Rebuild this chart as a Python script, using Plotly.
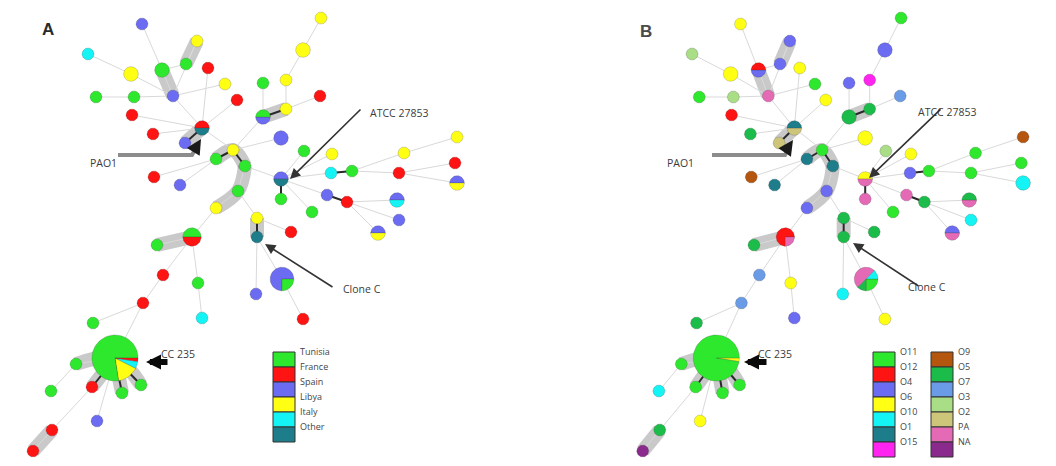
import math
import plotly.graph_objects as go

W, H = 1056, 466

# ---- network data -------------------------------------------------------
node_id = ["n1", "n2", "n3", "n4", "n5", "n6", "n7", "n8", "n9", "n10",
           "n11", "n12", "n13", "n14", "n15", "n15b", "n16", "n17", "n18", "n19",
           "n20", "n21a", "n21b", "n22", "n23", "n24", "n25", "n26", "n27", "n28",
           "n29", "n30", "n31", "n32", "n33", "n34a", "n34b", "n35a", "n35b", "n36",
           "n37", "n38", "n39", "n40", "n41", "n42", "n43", "n44", "n45a", "n45b",
           "n46", "n47a", "n47b", "n51", "n52", "n53", "n54", "n55", "n56", "n57",
           "n58", "n59", "n60", "n61", "n62", "n63", "n64", "n65", "n66", "n67"]

# layout coordinates of the spanning tree
node_x = [142, 88, 197, 186, 162, 208, 131, 96, 134, 173,
          225, 237, 132, 153, 202, 185, 321, 303, 263, 286,
          320, 263, 286, 281, 233, 216, 245, 238, 216, 154,
          180, 304, 332, 281, 281, 331, 352, 327, 347, 312,
          404, 457, 399, 455, 457, 397, 399, 378, 257, 257,
          291, 192, 157, 163, 198, 143, 202, 93, 282, 256,
          303, 115, 76, 51, 92, 122, 141, 97, 52, 33]
node_y = [24, 54, 41, 64, 70, 68, 74, 97, 97, 96,
          84, 100, 115, 134, 128, 143, 18, 50, 83, 80,
          96, 117, 109, 138, 150, 159, 166, 191, 208, 177,
          185, 151, 154, 179, 199, 173, 171, 195, 202, 212,
          153, 137, 173, 163, 183, 200, 220, 233, 218, 237,
          232, 237, 245, 275, 283, 303, 318, 323, 279, 294,
          319, 358, 364, 391, 387, 393, 385, 421, 430, 451]

# isolates per node, split by country of origin (panel A)
country_mix = [
    [("Spain", 1)], [("Italy", 1)], [("Libya", 1)], [("Tunisia", 1)], [("Tunisia", 2)],
    [("France", 1)], [("Libya", 2)], [("Tunisia", 1)], [("Tunisia", 1)], [("Spain", 1)],
    [("Libya", 1)], [("France", 1)], [("France", 1)], [("France", 1)], [("Other", 1), ("France", 1)],
    [("Spain", 1)], [("Libya", 1)], [("Libya", 2)], [("Tunisia", 1)], [("Libya", 1)],
    [("France", 1)], [("Spain", 1), ("Tunisia", 1)], [("Libya", 1)], [("Spain", 2)], [("Libya", 1)],
    [("Tunisia", 1)], [("Tunisia", 1)], [("Tunisia", 1)], [("Libya", 1)], [("France", 1)],
    [("Spain", 1)], [("Tunisia", 1)], [("Libya", 1)], [("Other", 1), ("Spain", 1)], [("Tunisia", 1)],
    [("Italy", 1)], [("Tunisia", 1)], [("Spain", 1)], [("France", 1)], [("Tunisia", 1)],
    [("Libya", 1)], [("Libya", 1)], [("France", 1)], [("France", 1)], [("Libya", 1), ("Spain", 1)],
    [("Italy", 1), ("Spain", 1)], [("Spain", 1)], [("Libya", 1), ("Spain", 1)], [("Libya", 1)], [("Other", 1)],
    [("France", 1)], [("France", 2), ("Tunisia", 2)], [("Tunisia", 1)], [("France", 1)], [("Tunisia", 1)],
    [("France", 1)], [("Italy", 1)], [("Tunisia", 1)], [("Tunisia", 2), ("Spain", 6)], [("Spain", 1)],
    [("France", 1)], [("France", 1), ("Italy", 2), ("Libya", 6), ("Tunisia", 31)], [("Tunisia", 1)], [("Tunisia", 1)], [("France", 1)],
    [("Tunisia", 1)], [("Tunisia", 1)], [("Spain", 1)], [("France", 1)], [("France", 1)],
]

# the same isolates split by serotype (panel B)
serotype_mix = [
    [("O6", 1)], [("O3", 1)], [("O4", 1)], [("O4", 1)], [("O4", 1), ("O12", 1)],
    [("O6", 1)], [("O6", 2)], [("O11", 1)], [("O3", 1)], [("PA", 1)],
    [("O11", 1)], [("O6", 1)], [("O12", 1)], [("O5", 1)], [("O2", 1), ("O1", 1)],
    [("O2", 1)], [("O11", 1)], [("O4", 2)], [("O4", 1)], [("O15", 1)],
    [("O7", 1)], [("O5", 2)], [("O5", 1)], [("O6", 2)], [("O11", 1)],
    [("O1", 1)], [("O1", 1)], [("O4", 1)], [("O4", 1)], [("O9", 1)],
    [("O1", 1)], [("O3", 1)], [("O6", 1)], [("PA", 1), ("O6", 1)], [("PA", 1)],
    [("O4", 1)], [("O11", 1)], [("PA", 1)], [("O5", 1)], [("O11", 1)],
    [("O11", 1)], [("O9", 1)], [("O11", 1)], [("O11", 1)], [("O10", 2)],
    [("PA", 1), ("O5", 1)], [("O10", 1)], [("PA", 1), ("O4", 1)], [("O5", 1)], [("O5", 1)],
    [("O5", 1)], [("PA", 1), ("O12", 3)], [("O5", 1)], [("O7", 1)], [("O6", 1)],
    [("O7", 1)], [("O4", 1)], [("O5", 1)], [("O11", 2), ("O5", 1), ("PA", 4), ("O10", 1)], [("O10", 1)],
    [("O6", 1)], [("O6", 1), ("O11", 39)], [("O11", 1)], [("O10", 1)], [("O11", 1)],
    [("O11", 1)], [("O11", 1)], [("O6", 1)], [("O5", 1)], [("NA", 1)],
]

edges = [("n23", "n15"), ("n15", "n10"), ("n15", "n13"), ("n15", "n14"), ("n15", "n12"),
         ("n15", "n6"), ("n10", "n5"), ("n10", "n9"), ("n10", "n7"), ("n5", "n4"),
         ("n4", "n3"), ("n5", "n1"), ("n9", "n8"), ("n7", "n2"), ("n10", "n11"),
         ("n23", "n21a"), ("n21a", "n21b"), ("n21a", "n18"), ("n21b", "n19"), ("n19", "n17"),
         ("n17", "n16"), ("n21b", "n20"), ("n23", "n22"), ("n24", "n29"), ("n24", "n28"),
         ("n23", "n24"), ("n23", "n25"), ("n25", "n32"), ("n32", "n33"), ("n32", "n30"),
         ("n32", "n31"), ("n32", "n34a"), ("n34a", "n34b"), ("n34b", "n37"), ("n37", "n38"),
         ("n34b", "n39"), ("n39", "n40"), ("n39", "n41"), ("n32", "n35a"), ("n35a", "n35b"),
         ("n35b", "n42"), ("n35b", "n43"), ("n35b", "n44"), ("n32", "n36"), ("n25", "n26"),
         ("n26", "n27"), ("n27", "n47a"), ("n47a", "n47b"), ("n47a", "n51"), ("n51", "n53"),
         ("n53", "n59"), ("n47a", "n52"), ("n52", "n54"), ("n53", "n55"), ("n26", "n45a"),
         ("n45a", "n45b"), ("n45b", "n56"), ("n56", "n58"), ("n45b", "n57"), ("n45a", "n46"),
         ("n59", "n60"), ("n59", "n62"), ("n59", "n63"), ("n59", "n64"), ("n60", "n61"),
         ("n62", "n66"), ("n66", "n67"), ("n59", "n65"), ("n3", "n10"), ("n15", "n15b")]

close_links = [("n23", "n24"), ("n23", "n25"), ("n32", "n33"), ("n34a", "n34b"),
               ("n35a", "n35b"), ("n45a", "n45b"), ("n15", "n15b"), ("n21a", "n21b"),
               ("n59", "n62"), ("n59", "n63"), ("n59", "n64")]

complexes = [["n3", "n4"], ["n5", "n10"], ["n15", "n15b"], ["n21a", "n21b"],
             ["n24", "n23", "n25"], ["n25", "n26", "n27"], ["n45a", "n45b"],
             ["n47a", "n47b"], ["n60", "n59", "n64"], ["n59", "n62"], ["n59", "n63"],
             ["n66", "n67"]]

country_names = ["Tunisia", "France", "Spain", "Libya", "Italy", "Other"]
country_colors = ["#2ee82e", "#ff1414", "#6c6cf2", "#ffff14", "#14f4f4", "#1e7d8a"]
serotype_names = ["O11", "O12", "O4", "O6", "O10", "O1", "O15",
                  "O9", "O5", "O7", "O3", "O2", "PA", "NA"]
serotype_colors = ["#2ee82e", "#ff1414", "#6c6cf2", "#ffff14", "#14f4f4", "#1e7d8a", "#ff24f0",
                   "#b5560f", "#1cbc4a", "#6a9be6", "#a9dd86", "#cdc67a", "#e46ab6", "#8b2a8d"]

# ---- figure --------------------------------------------------------------
pos = {k: (x, y) for k, x, y in zip(node_id, node_x, node_y)}
fig = go.Figure()

# panel B is drawn with a horizontally compressed copy of the same layout
panels = [
    dict(xa="x", ya="y", xrange=[0, 528], mixes=country_mix,
         palette=dict(zip(country_names, country_colors))),
    dict(xa="x2", ya="y2", xrange=[-94.9, 493.7], mixes=serotype_mix,
         palette=dict(zip(serotype_names, serotype_colors))),
]


def radius(n):
    return 3.2 * math.sqrt(n) + 2.8


for p in panels:
    kx = (p["xrange"][1] - p["xrange"][0]) / 528.0
    common = dict(xaxis=p["xa"], yaxis=p["ya"], hoverinfo="skip", showlegend=False)

    # shaded complexes
    for path in complexes:
        xs = [pos[k][0] for k in path]
        ys = [pos[k][1] for k in path]
        fig.add_trace(go.Scatter(x=xs, y=ys, mode="lines",
                                 line=dict(color="rgba(120,120,120,0.40)", width=14,
                                           shape="spline"), **common))
    # thin links
    ex, ey = [], []
    for a, b in edges:
        ex += [pos[a][0], pos[b][0], None]
        ey += [pos[a][1], pos[b][1], None]
    fig.add_trace(go.Scatter(x=ex, y=ey, mode="lines",
                             line=dict(color="#d9d9d9", width=1), **common))
    # close links
    cx, cy = [], []
    for a, b in close_links:
        cx += [pos[a][0], pos[b][0], None]
        cy += [pos[a][1], pos[b][1], None]
    fig.add_trace(go.Scatter(x=cx, y=cy, mode="lines",
                             line=dict(color="#2a2a2a", width=2), **common))

    # nodes as pie polygons, grouped by colour
    polys = {}
    for k, mix in zip(node_id, p["mixes"]):
        x0, y0 = pos[k]
        total = sum(c for _, c in mix)
        r = radius(total)
        a = 0.0
        for cat, c in mix:
            span = 360.0 * c / total
            nseg = max(3, int(span / 6))
            arc = [(x0 + r * kx * math.cos(math.radians(a + span * i / nseg)),
                    y0 + r * math.sin(math.radians(a + span * i / nseg)))
                   for i in range(nseg + 1)]
            pts = arc if len(mix) == 1 else [(x0, y0)] + arc + [(x0, y0)]
            col = p["palette"][cat]
            xs, ys = polys.setdefault(col, ([], []))
            xs += [q[0] for q in pts] + [None]
            ys += [q[1] for q in pts] + [None]
            a += span
    for col, (xs, ys) in polys.items():
        fig.add_trace(go.Scatter(x=xs, y=ys, mode="lines", fill="toself", fillcolor=col,
                                 line=dict(color="rgba(50,50,50,0.35)", width=0.6),
                                 **common))


def P(x, y):
    return x / W, 1 - y / H


ann = []
shapes = []
label_font = dict(family="Open Sans", size=10.5, color="#3c3c3c")

# panel letters
for t, (x, y), c in [("A", (40, 18), "#2a2a2a"), ("B", (646, 20), "#4a4a4a")]:
    px, py = P(x, y)
    ann.append(dict(x=px, y=py, xref="paper", yref="paper", text=f"<b>{t}</b>",
                    showarrow=False, font=dict(family="Liberation Sans", size=17, color=c)))

# callouts: (text, text centre, tail, tip)
callouts = [
    ("ATCC 27853", (399, 104), (362, 108), (290, 179)),
    ("Clone C", (362, 289), (334, 288), (265, 244)),
    ("ATCC 27853", (978, 103), (942, 108), (869, 178)),
    ("Clone C", (948, 287), (920, 287), (853, 243)),
]
for text, (tx, ty), (ax, ay), (hx, hy) in callouts:
    px, py = P(tx, ty)
    ann.append(dict(x=px, y=py, xref="paper", yref="paper", text=text, showarrow=False,
                    font=label_font))
    px, py = P(hx, hy)
    ann.append(dict(x=px, y=py, xref="paper", yref="paper", text="", showarrow=True,
                    ax=ax - hx, ay=ay - hy, arrowcolor="#333333", arrowwidth=1.6,
                    arrowhead=2, arrowsize=1.3))

# PAO1 elbow pointers
for (tx, ty), path, (ax, ay), (hx, hy) in [
    ((88, 154), [(118, 155), (192, 155), (196, 148)], (195, 149), (201, 139)),
    ((680, 154), [(712, 155), (785, 155), (788, 148)], (787, 149), (793, 140)),
]:
    px, py = P(tx, ty)
    ann.append(dict(x=px, y=py, xref="paper", yref="paper", text="PAO1", showarrow=False,
                    font=label_font))
    d = "M " + " L ".join(f"{P(x, y)[0]},{P(x, y)[1]}" for x, y in path)
    shapes.append(dict(type="path", path=d, xref="paper", yref="paper",
                       line=dict(color="#8c8c8c", width=4)))
    px, py = P(hx, hy)
    ann.append(dict(x=px, y=py, xref="paper", yref="paper", text="", showarrow=True,
                    ax=ax - hx, ay=ay - hy, arrowcolor="#1a1a1a", arrowwidth=2.5,
                    arrowhead=2, arrowsize=1.2))

# CC 235 pointers
for (tx, ty), (ax, ay), (hx, hy) in [((159, 363), (169, 362), (146, 362)),
                                     ((756, 363), (768, 362), (744, 362))]:
    px, py = P(tx, ty)
    ann.append(dict(x=px, y=py, xref="paper", yref="paper", text="CC 235", showarrow=False,
                    xanchor="left", font=label_font))
    px, py = P(hx, hy)
    ann.append(dict(x=px, y=py, xref="paper", yref="paper", text="", showarrow=True,
                    ax=ax - hx, ay=ay - hy, arrowcolor="#0a0a0a", arrowwidth=6,
                    arrowhead=2, arrowsize=0.5))

# legends drawn as stacked swatches
legend_font = dict(family="Open Sans", size=9, color="#444444")


def swatch_column(names, colors, x0, y0):
    for i, (nm, col) in enumerate(zip(names, colors)):
        xa, ya = P(x0, y0 + 15 * i)
        xb, yb = P(x0 + 22, y0 + 15 * (i + 1))
        shapes.append(dict(type="rect", xref="paper", yref="paper", x0=xa, x1=xb, y0=yb, y1=ya,
                           fillcolor=col, line=dict(color="#333333", width=1)))
        tx, ty = P(x0 + 25, y0 + 15 * i + 7.5)
        ann.append(dict(x=tx, y=ty, xref="paper", yref="paper", text=nm, showarrow=False,
                        xanchor="left", font=legend_font))


swatch_column(country_names, country_colors, 273, 352)
swatch_column(serotype_names[:7], serotype_colors[:7], 873, 352)
swatch_column(serotype_names[7:], serotype_colors[7:], 931, 352)

axis_off = dict(visible=False, showgrid=False, zeroline=False, fixedrange=True)
fig.update_layout(
    width=W, height=H,
    margin=dict(l=0, r=0, t=0, b=0),
    paper_bgcolor="white", plot_bgcolor="white",
    xaxis=dict(domain=[0, 0.5], range=panels[0]["xrange"], **axis_off),
    yaxis=dict(domain=[0, 1], range=[H, 0], **axis_off),
    xaxis2=dict(domain=[0.5, 1], range=panels[1]["xrange"], anchor="y2", **axis_off),
    yaxis2=dict(domain=[0, 1], range=[H, 0], anchor="x2", **axis_off),
    annotations=ann, shapes=shapes, showlegend=False,
)

fig.write_html("out.html")
